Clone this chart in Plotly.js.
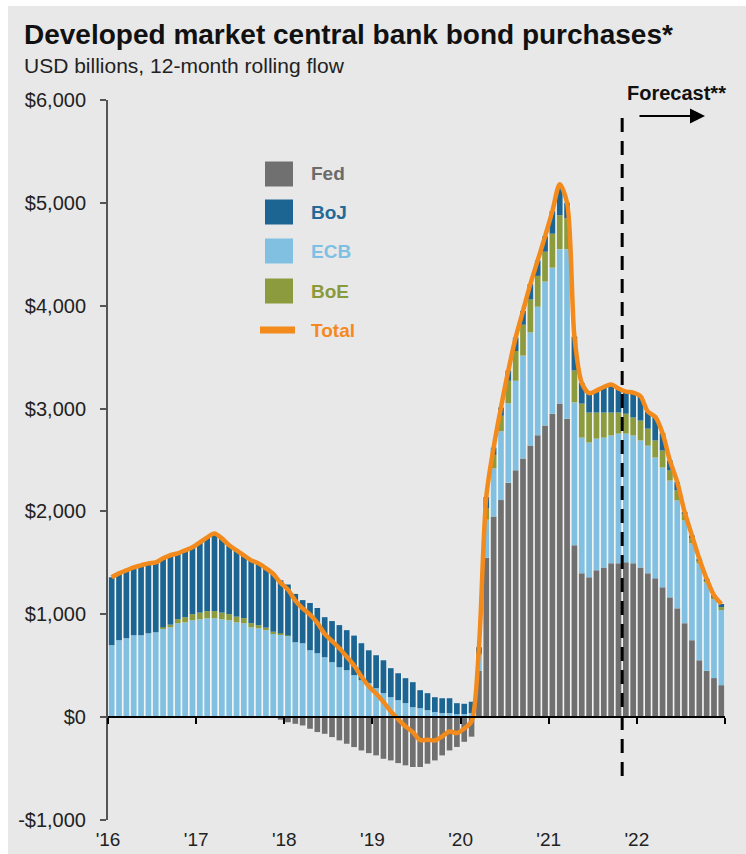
<!DOCTYPE html>
<html>
<head>
<meta charset="utf-8">
<script src="https://cdn.plot.ly/plotly-3.0.1.min.js"></script>
<style>
  html, body { margin: 0; padding: 0; background: #ffffff; }
  #chart { position: absolute; left: 8px; top: 6px; width: 738px; height: 848px; }
</style>
</head>
<body>
<div id="chart"></div>
<script>
// ---------------- DATA ----------------
const monthNames = ['Jan','Feb','Mar','Apr','May','Jun','Jul','Aug','Sep','Oct','Nov','Dec'];
const years = [2016, 2017, 2018, 2019, 2020, 2021, 2022];
const months = [];
years.forEach(y => monthNames.forEach(m => months.push(m + ' ' + y)));

const yearTickLabels = ["'16", "'17", "'18", "'19", "'20", "'21", "'22", ""];
const yTickValues = [-1000, 0, 1000, 2000, 3000, 4000, 5000, 6000];
const yTickLabels = ['-$1,000', '$0', '$1,000', '$2,000', '$3,000', '$4,000', '$5,000', '$6,000'];

// USD billions, 12-month rolling flow (Jan 2016 ... Dec 2022)
const fed = [
  0, 0, 0, 0, 0, 0, 0, 0, 0, 0, 0, 0,
  0, 0, 0, 0, 0, 0, 0, 0, 0, 0, -5, -25,
  -50, -65, -81, -113, -145, -162, -194, -226, -259, -291, -324, -350,
  -372, -405, -421, -447, -469, -485, -485, -453, -421, -372, -324, -290,
  -240, -190, 450, 1550, 1950, 2110, 2280, 2400, 2515, 2640, 2740, 2835,
  2950, 3050, 2900, 1670, 1398, 1360, 1427, 1456, 1495, 1495, 1505, 1495,
  1456, 1398, 1350, 1262, 1165, 1058, 913, 748, 553, 450, 380, 311
];
const ecb = [
  700, 748, 767, 796, 796, 815, 825, 864, 874, 913, 922, 942,
  951, 961, 961, 951, 942, 922, 913, 874, 864, 845, 815, 805,
  790, 728, 718, 650, 621, 582, 534, 485, 456, 408, 359, 330,
  282, 233, 194, 165, 136, 97, 87, 68, 49, 39, 39, 29,
  30, 40, 150, 370, 470, 670, 770, 870, 1000, 1100, 1250, 1400,
  1420, 1500, 1650, 1390, 1320, 1310, 1281, 1262, 1243, 1262, 1252, 1243,
  1234, 1242, 1174, 1165, 1135, 1049, 1000, 942, 942, 860, 770, 730
];
const boe = [
  0, 0, 0, 0, 0, 0, 0, 10, 25, 40, 50, 60,
  65, 70, 70, 65, 60, 55, 50, 40, 30, 25, 15, 10,
  5, 0, 0, 0, 0, 0, 0, 0, 0, 0, 0, 0,
  0, 0, 0, 0, 0, 0, 0, 0, 0, 0, 0, 0,
  0, 0, 20, 110, 130, 150, 220, 290, 300, 320, 300, 290,
  330, 330, 300, 310, 330, 291, 253, 243, 223, 204, 193, 175,
  193, 165, 166, 165, 98, 97, 67, 58, 29, 20, 15, 29
];
const boj = [
  660, 650, 660, 660, 680, 680, 680, 670, 675, 640, 650, 650,
  683, 717, 755, 722, 668, 644, 610, 610, 601, 577, 568, 515,
  495, 470, 420, 460, 440, 390, 400, 410, 390, 385, 360, 320,
  320, 320, 282, 262, 243, 243, 175, 165, 145, 145, 145, 107,
  100, 110, 60, 110, 70, 80, 100, 130, 135, 150, 150, 150,
  220, 300, 150, 330, 202, 189, 214, 249, 274, 234, 215, 242,
  237, 165, 230, 168, 97, 81, 15, 19, 16, 15, 20, 30
];
const forecastStart = 'Nov 2021';

// ---------------- DERIVED ----------------
const seriesList = [fed, ecb, boe, boj];
const xPos = months.map((m, i) => i + 0.5);
const total = months.map((m, i) => seriesList.reduce((s, arr) => s + arr[i], 0));
const posTop = months.map((m, i) => seriesList.reduce((s, arr) => s + Math.max(arr[i], 0), 0));
const negBottom = months.map((m, i) => seriesList.reduce((s, arr) => s + Math.min(arr[i], 0), 0));
const yearTickVals = yearTickLabels.map((t, k) => k * 12);
const forecastX = months.indexOf(forecastStart);

// ---------------- STYLE ----------------
const FONT = 'Arial, "Liberation Sans", Helvetica, sans-serif';
const C = {
  fed: '#707070', boj: '#1c6593', ecb: '#82c0e1', boe: '#8b9b3d', total: '#f28a1c',
  bg: '#e8e8e8', gap: '#f7f7f7'
};
const TXT = { fed: '#6b6b6b', boj: '#236a98', ecb: '#7ec0e3', boe: '#8a993a', total: '#f5891f' };

// page pixel -> paper helpers (plot area on page: x 108..725, y 100..820)
const PL = 108, PT = 100, PW = 617, PH = 720;
const px = x => (x - PL) / PW;
const py = y => 1 - (y - PT) / PH;

const envelopeBase = { type: 'bar', x: xPos, width: 1.0, xaxis: 'x', yaxis: 'y',
  marker: { color: C.gap, line: { width: 0 } }, hoverinfo: 'skip', showlegend: false };

const barBase = { type: 'bar', x: xPos, width: 0.78, xaxis: 'x2', yaxis: 'y', customdata: months,
  hovertemplate: '%{customdata}: %{y}<extra>%{fullData.name}</extra>' };

const traces = [
  Object.assign({}, envelopeBase, { y: posTop, name: 'env+' }),
  Object.assign({}, envelopeBase, { y: negBottom, name: 'env-' }),
  Object.assign({}, barBase, { y: fed, name: 'Fed', marker: { color: C.fed, line: { width: 0 } } }),
  Object.assign({}, barBase, { y: ecb, name: 'ECB', marker: { color: C.ecb, line: { width: 0 } } }),
  Object.assign({}, barBase, { y: boe, name: 'BoE', marker: { color: C.boe, line: { width: 0 } } }),
  Object.assign({}, barBase, { y: boj, name: 'BoJ', marker: { color: C.boj, line: { width: 0 } } }),
  { type: 'scatter', mode: 'lines', x: xPos, y: total, name: 'Total', xaxis: 'x2', yaxis: 'y',
    line: { color: C.total, width: 4.5, shape: 'spline', smoothing: 0.8 }, customdata: months,
    hovertemplate: '%{customdata}: %{y}<extra>Total</extra>' }
];

// Custom legend (matches the reference's large swatches and coloured labels)
const legendItems = [
  { name: 'Fed', color: C.fed, text: TXT.fed, cy: 174, kind: 'box' },
  { name: 'BoJ', color: C.boj, text: TXT.boj, cy: 212, kind: 'box' },
  { name: 'ECB', color: C.ecb, text: TXT.ecb, cy: 251, kind: 'box' },
  { name: 'BoE', color: C.boe, text: TXT.boe, cy: 291, kind: 'box' },
  { name: 'Total', color: C.total, text: TXT.total, cy: 330, kind: 'line' }
];

const shapes = [
  { type: 'line', xref: 'x', yref: 'y', x0: forecastX, x1: forecastX, y0: 5825, y1: -640,
    line: { color: '#000', width: 3, dash: '14px,9px' }, layer: 'above' }
];
const annotations = [
  { xref: 'paper', yref: 'paper', x: px(22), y: py(66), xanchor: 'left', yanchor: 'middle',
    text: 'USD billions, 12-month rolling flow', showarrow: false,
    font: { family: FONT, size: 21, color: '#222' } },
  { xref: 'paper', yref: 'paper', x: px(625), y: py(93), xanchor: 'left', yanchor: 'middle',
    text: '<b>Forecast**</b>', showarrow: false, font: { family: FONT, size: 20, color: '#111' } },
  { xref: 'paper', yref: 'paper', x: px(705), y: py(116), ax: -67, ay: 0, axref: 'pixel', ayref: 'pixel',
    text: '', showarrow: true, arrowhead: 2, arrowsize: 1.5, arrowwidth: 2, arrowcolor: '#000', standoff: 0 }
];

legendItems.forEach(it => {
  if (it.kind === 'box') {
    shapes.push({ type: 'rect', xref: 'paper', yref: 'paper', x0: px(265), x1: px(293),
      y0: py(it.cy + 12.5), y1: py(it.cy - 12.5), fillcolor: it.color, line: { width: 0 }, layer: 'above' });
  } else {
    shapes.push({ type: 'line', xref: 'paper', yref: 'paper', x0: px(260), x1: px(295),
      y0: py(it.cy), y1: py(it.cy), line: { color: it.color, width: 7 }, layer: 'above' });
  }
  annotations.push({ xref: 'paper', yref: 'paper', x: px(309), y: py(it.cy), xanchor: 'left', yanchor: 'middle',
    text: '<b>' + it.name + '</b>', showarrow: false, font: { family: FONT, size: 19, color: it.text } });
});

const layout = {
  width: 738, height: 848,
  margin: { l: 100, r: 21, t: 94, b: 34 },
  paper_bgcolor: C.bg, plot_bgcolor: C.bg,
  barmode: 'relative',
  showlegend: false,
  font: { family: FONT, color: '#222' },
  title: { text: '<b>Developed market central bank bond purchases*</b>',
    xref: 'container', yref: 'container', x: 16 / 738, xanchor: 'left', y: 1 - 28 / 848, yanchor: 'middle',
    font: { family: FONT, size: 28, color: '#111' } },
  xaxis: { range: [0, 84], tickmode: 'array', tickvals: yearTickVals, ticktext: yearTickLabels,
    showline: false, ticks: '', showgrid: false, zeroline: false,
    tickfont: { family: FONT, size: 19, color: '#222' }, ticklabelstandoff: 6, fixedrange: true },
  xaxis2: { overlaying: 'x', anchor: 'free', position: 1 / 7, range: [0, 84],
    tickmode: 'array', tickvals: yearTickVals, showticklabels: false,
    showline: true, linecolor: '#000', linewidth: 1.5, ticks: 'outside', ticklen: 6, tickwidth: 1.5, tickcolor: '#000',
    showgrid: false, zeroline: false, fixedrange: true },
  yaxis: { range: [-1000, 6000], tickmode: 'array', tickvals: yTickValues, ticktext: yTickLabels,
    showline: true, linecolor: '#555', linewidth: 2, ticks: 'outside', ticklen: 6, tickwidth: 1.5, tickcolor: '#555',
    showgrid: false, zeroline: false, tickfont: { family: FONT, size: 20, color: '#222' },
    ticklabelstandoff: 10, fixedrange: true },
  shapes: shapes,
  annotations: annotations
};

Plotly.newPlot('chart', traces, layout, { displayModeBar: false, responsive: false });
</script>
</body>
</html>
